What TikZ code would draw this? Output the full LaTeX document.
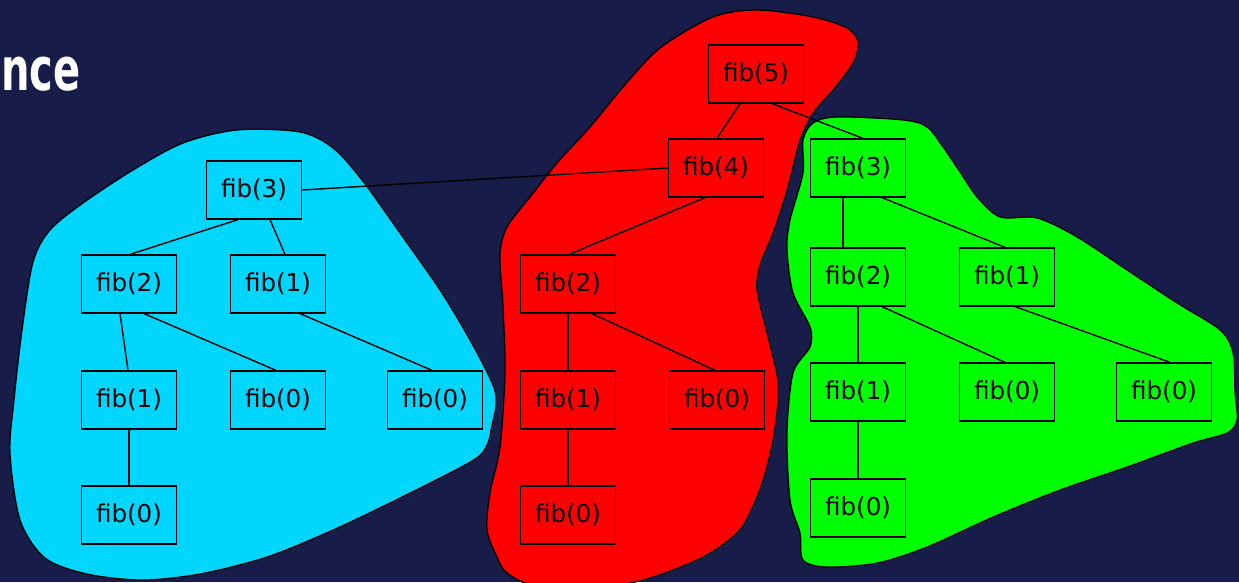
\documentclass[tikz,border=0pt]{standalone}
\usepackage{fontspec}
\setmainfont{DejaVu Sans}
\newfontfamily\titlefont{DejaVu Sans}
\usepackage{graphicx}
\definecolor{slidebg}{RGB}{23,29,72}
\definecolor{blobcyan}{RGB}{0,214,255}
\definecolor{blobred}{RGB}{255,0,0}
\definecolor{blobgreen}{RGB}{0,255,0}
\usetikzlibrary{calc}

\begin{document}
\begin{tikzpicture}[x=0.02cm,y=-0.02cm,
  fibbox/.style={draw,line width=0.7pt,minimum width=1.9cm,minimum height=1.16cm,inner sep=0pt,font=\fontsize{14}{16}\selectfont},
  blob/.style={draw=black,line width=0.7pt},
  edge/.style={line width=0.8pt}]
  \fill[slidebg] (0,0) rectangle (1239,582);
  \useasboundingbox (0,0) rectangle (1239,582);
  \node[anchor=base west,inner sep=0pt,text=white,font=\titlefont\bfseries\fontsize{34}{40}\selectfont] (title) at (1,90) {\scalebox{0.67}[1]{nce}};
  % the three groups
  \draw[blob,fill=blobcyan] plot[smooth cycle,tension=0.5] coordinates {(237,130) (300,132) (333,148) (362,180) (400,233) (440,290) (470,340) (493,385) (496,405) (492,425) (487,445) (472,461) (400,498) (333,530) (267,557) (200,574) (142,580) (87,574) (45,558) (20,520) (10,453) (14,400) (22,330) (33,262) (50,230) (83,203) (133,170) (183,143)};
  \draw[blob,fill=blobred] plot[smooth cycle,tension=0.5] coordinates {(713,17) (757,10) (813,17) (847,28) (858,42) (853,63) (833,90) (813,113) (800,140) (787,190) (773,233) (760,265) (757,290) (767,333) (777,375) (778,400) (773,440) (763,480) (752,508) (737,533) (703,557) (653,577) (610,586) (537,586) (507,573) (497,557) (487,530) (490,493) (500,447) (505,373) (503,307) (500,255) (507,227) (530,197) (557,163) (590,127) (623,87) (660,48)};
  \draw[blob,fill=blobgreen] plot[smooth cycle,tension=0.5] coordinates {(813,123) (837,117) (903,120) (927,127) (943,147) (960,172) (977,197) (1000,217) (1037,218) (1077,237) (1127,270) (1177,303) (1220,330) (1233,353) (1235,393) (1237,420) (1227,433) (1193,443) (1127,467) (1060,490) (993,517) (927,547) (877,563) (827,567) (803,560) (800,533) (790,500) (787,433) (793,373) (810,347) (810,327) (793,293) (787,250) (790,220) (803,173) (803,140)};
  % cyan tree
  \node[fibbox] (c3) at (254,190) {fib(3)};
  \node[fibbox] (c2a) at (129,284) {fib(2)};
  \node[fibbox] (c1a) at (278,284) {fib(1)};
  \node[fibbox] (c1b) at (129,400) {fib(1)};
  \node[fibbox] (c0a) at (278,400) {fib(0)};
  \node[fibbox] (c0b) at (435,400) {fib(0)};
  \node[fibbox] (c0c) at (129,515) {fib(0)};
  % red tree
  \node[fibbox] (r5) at (756,74) {fib(5)};
  \node[fibbox] (r4) at (716,168) {fib(4)};
  \node[fibbox] (r2) at (568,284) {fib(2)};
  \node[fibbox] (r1) at (568,400) {fib(1)};
  \node[fibbox] (r0a) at (717,400) {fib(0)};
  \node[fibbox] (r0b) at (568,515) {fib(0)};
  % green tree
  \node[fibbox] (g3) at (858,168) {fib(3)};
  \node[fibbox] (g2a) at (858,277) {fib(2)};
  \node[fibbox] (g1a) at (1007,277) {fib(1)};
  \node[fibbox] (g1b) at (858,392) {fib(1)};
  \node[fibbox] (g0a) at (1007,392) {fib(0)};
  \node[fibbox] (g0b) at (1164,392) {fib(0)};
  \node[fibbox] (g0c) at (858,508) {fib(0)};
  % edges
  \draw[edge] ($(c3.south)+(-16,0)$)--($(c2a.north)+(1,0)$);
  \draw[edge] ($(c3.south)+(16,0)$)--($(c1a.north)+(7,0)$);
  \draw[edge] ($(c2a.south)+(-9,0)$)--($(c1b.north)+(-1,0)$);
  \draw[edge] ($(c2a.south)+(15,0)$)--($(c0a.north)+(-2,0)$);
  \draw[edge] ($(c1a.south)+(22,0)$)--($(c0b.north)+(-3,0)$);
  \draw[edge] (c1b.south)--(c0c.north);
  \draw[edge] ($(r5.south)+(-16,0)$)--($(r4.north)+(1,0)$);
  \draw[edge] ($(r5.south)+(16,0)$)--($(g3.north)+(5,0)$);
  \draw[edge] ($(r4.south)+(-11,0)$)--($(r2.north)+(1,0)$);
  \draw[edge] (r4.west)--(c3.east);
  \draw[edge] (r2.south)--(r1.north);
  \draw[edge] ($(r2.south)+(24,0)$)--($(r0a.north)+(-2,0)$);
  \draw[edge] (r1.south)--(r0b.north);
  \draw[edge] ($(g3.south)+(-15,0)$)--($(g2a.north)+(-15,0)$);
  \draw[edge] ($(g3.south)+(24,0)$)--($(g1a.north)+(-2,0)$);
  \draw[edge] (g2a.south)--(g1b.north);
  \draw[edge] ($(g2a.south)+(24,0)$)--($(g0a.north)+(-2,0)$);
  \draw[edge] ($(g1a.south)+(8,0)$)--($(g0b.north)+(6,0)$);
  \draw[edge] (g1b.south)--(g0c.north);
\end{tikzpicture}
\end{document}
